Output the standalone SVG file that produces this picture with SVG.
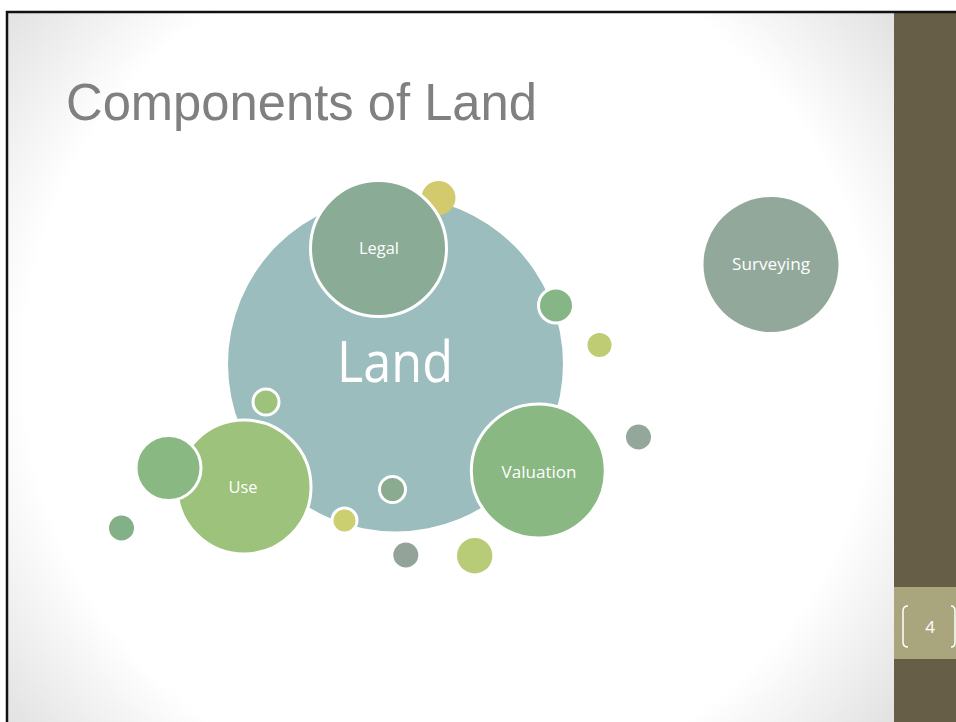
<svg xmlns="http://www.w3.org/2000/svg" width="956" height="722" viewBox="0 0 956 722">
<defs>
<radialGradient id="bg" cx="450" cy="367" r="575" gradientUnits="userSpaceOnUse">
<stop offset="0" stop-color="#ffffff"/>
<stop offset="0.74" stop-color="#ffffff"/>
<stop offset="1" stop-color="#e0e0e0"/>
</radialGradient>
<style>
.lbl{font-family:"Open Sans","Liberation Sans",sans-serif;fill:#ffffff;text-anchor:middle}
.ws{stroke:#ffffff;stroke-width:3}
</style>
</defs>
<rect x="0" y="0" width="956" height="722" fill="#ffffff"/>
<rect x="7" y="12" width="887" height="710" fill="url(#bg)"/>
<rect x="894" y="12" width="62" height="710" fill="#665e47"/>
<rect x="894" y="587" width="62" height="72" fill="#a9a67e"/>
<path d="M7 722 V12 H956" fill="none" stroke="#111111" stroke-width="2.5"/>
<path d="M908 606 Q903 606 903 611 V642 Q903 647 908 647" fill="none" stroke="#ffffff" stroke-width="1.5"/>
<path d="M951 606 Q955 606 955 611 V642 Q955 647 951 647" fill="none" stroke="#ffffff" stroke-width="1.5"/>
<text x="930" y="633" font-family="Open Sans, Liberation Sans, sans-serif" font-size="17" fill="#ffffff" text-anchor="middle">4</text>
<text x="66" y="120" font-family="Liberation Sans, Arial, sans-serif" font-size="52" fill="#808080" textLength="471" lengthAdjust="spacingAndGlyphs">Components of Land</text>
<g id="connectors"></g>
<g id="land"><circle cx="395.5" cy="364" r="167.5" fill="#9cbdbd"/><text class="lbl" x="395" y="382" font-size="56" textLength="116" lengthAdjust="spacingAndGlyphs">Land</text></g>
<g id="dot-top"><circle cx="438.5" cy="198" r="17" fill="#d2ca6c"/></g>
<g id="legal"><circle class="ws" cx="378.5" cy="248.5" r="68" fill="#8aab95"/><text class="lbl" x="379" y="254" font-size="15.5" textLength="40" lengthAdjust="spacingAndGlyphs">Legal</text></g>
<g id="dot-r1"><circle class="ws" cx="556" cy="305.5" r="17.5" fill="#86b586"/></g>
<g id="dot-r2"><circle cx="599.5" cy="345" r="12" fill="#c0cc74"/></g>
<g id="surveying"><circle cx="771" cy="264.5" r="67.5" fill="#91a89b"/><text class="lbl" x="771" y="269.5" font-size="15.5" textLength="78" lengthAdjust="spacingAndGlyphs">Surveying</text></g>
<g id="dot-r3"><circle cx="638.5" cy="437" r="12.5" fill="#93a89a"/></g>
<g id="valuation"><circle class="ws" cx="538.3" cy="471" r="67" fill="#89b882"/><text class="lbl" x="539" y="477.5" font-size="15.5" textLength="75" lengthAdjust="spacingAndGlyphs">Valuation</text></g>
<g id="dot-l1"><circle class="ws" cx="266" cy="402" r="13" fill="#9dc27c"/></g>
<g id="use"><circle class="ws" cx="244" cy="487" r="67" fill="#9dc27c"/><text class="lbl" x="243" y="493" font-size="15.5" textLength="29" lengthAdjust="spacingAndGlyphs">Use</text></g>
<g id="dot-l2"><circle class="ws" cx="168.5" cy="468" r="32.5" fill="#89b882"/></g>
<g id="dot-l3"><circle cx="121.5" cy="528" r="12.5" fill="#84b087"/></g>
<g id="dot-b1"><circle class="ws" cx="392.5" cy="489.5" r="13" fill="#8aab8f"/></g>
<g id="dot-b2"><circle class="ws" cx="344.5" cy="520.5" r="12.5" fill="#cccf6f"/></g>
<g id="dot-b3"><circle cx="405.8" cy="555" r="12.5" fill="#93a39a"/></g>
<g id="dot-b4"><circle cx="474.7" cy="555.7" r="17.7" fill="#b8cb76"/></g>
</svg>
